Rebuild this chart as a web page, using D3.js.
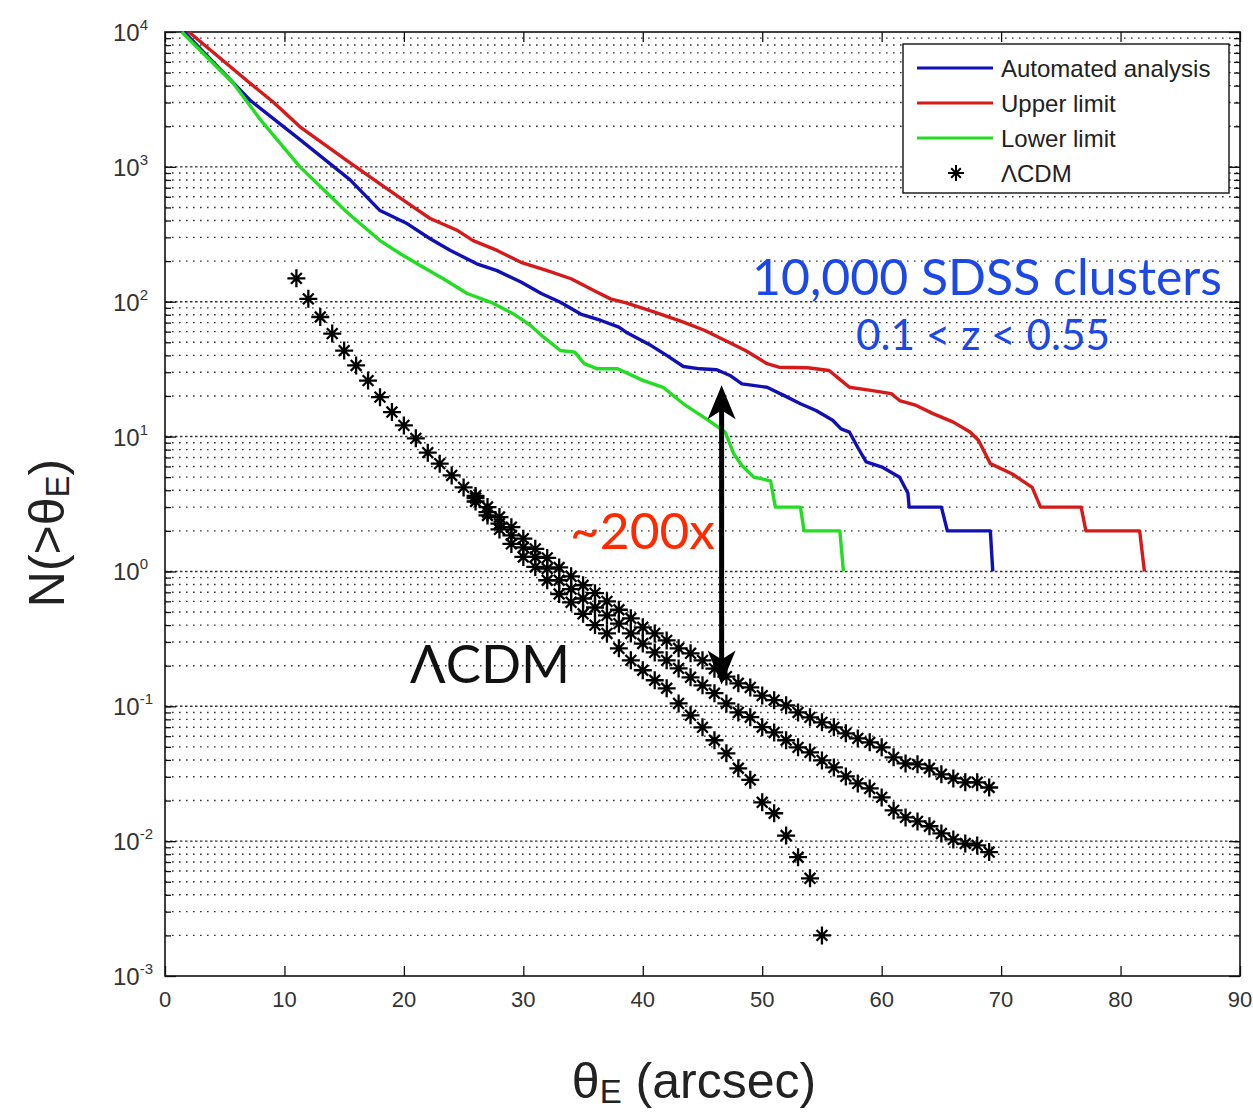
<!DOCTYPE html>
<html><head><meta charset="utf-8">
<script src="https://cdn.jsdelivr.net/npm/d3@7"></script>
<style>body{margin:0;background:#fff}</style>
</head><body>
<svg id="chart" width="1253" height="1117" xmlns="http://www.w3.org/2000/svg"></svg>
<script>
// ---------------- data ----------------
const xTickValues = [0,10,20,30,40,50,60,70,80,90];
const yTickExponents = [-3,-2,-1,0,1,2,3,4];

// [theta_E (arcsec), N(>theta_E)]
const automatedAnalysis = [[1.6,10000],[7.1,3130],[11.3,1590],[15.5,800],[18.0,474],[20.3,378],[22.2,293],[23.9,240],[26.1,191],[27.8,170],[29.8,140],[31.5,115],[33.1,99],[34.8,81],[36.5,72.6],[38.0,64.7],[38.6,59.4],[40.7,47.3],[42.0,40],[43.4,33.1],[44.8,31.8],[46.2,31.3],[47.3,28.4],[48.3,24.6],[50.4,23.2],[51.8,20.2],[53.2,17.5],[54.5,15.6],[55.9,13.2],[56.6,11.4],[57.3,10.8],[58.0,8.3],[58.7,6.5],[60.1,5.9],[61.5,5.0],[62.2,3.8],[62.3,3],[65.0,3],[65.5,2],[69.1,2],[69.3,1]];

const upperLimit = [[2.0,10000],[7.1,4190],[9.1,3000],[11.3,1980],[15.5,1070],[18.0,748],[20.8,502],[22.2,414],[24.5,337],[25.8,284],[27.8,240],[29.8,196],[32.0,170],[34.0,148],[35.9,121],[37.3,105],[38.6,98],[41.0,83.6],[43.4,70.5],[45.2,61.2],[46.9,51.6],[48.6,43.5],[50.4,34.7],[51.4,32.7],[53.8,32.4],[55.6,30.9],[56.6,26.1],[57.3,23.2],[59.1,22],[60.8,20.8],[61.5,18.5],[62.9,17],[64.3,14.8],[66.0,12.8],[67.4,10.8],[68.1,9.4],[69.1,6.3],[70.9,5.3],[72.6,4.2],[73.3,3],[76.7,3],[77.1,2],[81.6,2],[82.0,1]];

const lowerLimit = [[1.4,10000],[5.7,4190],[8.0,2230],[11.3,1000],[15.3,455],[18.0,284],[19.7,227],[21.4,185],[23.3,148],[25.3,115],[27.3,99],[29.2,81],[30.6,66.7],[31.7,54.6],[33.1,43.5],[34.3,42.3],[35.1,34.7],[36.2,31.8],[37.9,31.8],[40.0,26.1],[41.7,23.2],[43.4,17.5],[45.5,13.2],[46.9,10.8],[47.6,7.5],[48.3,6.1],[49.3,5],[50.7,4.7],[51.1,3],[53.2,3],[53.5,2],[56.5,2],[56.8,1]];

// LambdaCDM predictions, evaluated at integer theta_E
const lcdmSharedTheta = [11,12,13,14,15,16,17,18,19,20,21,22,23,24,25];
const lcdmShared = [149,105,77,58,43.4,33.7,26,19.6,15.2,12.1,9.7,7.6,6.3,5.15,4.2];
const lcdmUpperTheta = d3.range(26,70);
const lcdmUpper = [3.63,3.0,2.53,2.13,1.75,1.47,1.26,1.07,0.92,0.79,0.69,0.60,0.52,0.449,0.385,0.347,0.308,0.269,0.247,0.219,0.19,0.166,0.148,0.138,0.12,0.111,0.1016,0.090,0.0828,0.076,0.0698,0.063,0.0578,0.054,0.0496,0.0418,0.0377,0.0371,0.0347,0.0313,0.0292,0.0273,0.0273,0.025];
const lcdmMiddleTheta = d3.range(26,70);
const lcdmMiddle = [3.5,2.75,2.26,1.85,1.51,1.28,1.05,0.86,0.74,0.63,0.54,0.472,0.41,0.347,0.292,0.251,0.219,0.191,0.164,0.143,0.125,0.105,0.09,0.083,0.07,0.064,0.056,0.0496,0.0455,0.0397,0.0352,0.0302,0.0268,0.0246,0.0211,0.0169,0.015,0.014,0.0129,0.0114,0.0103,0.0096,0.0093,0.0083];
const lcdmLowerTheta = d3.range(26,56);
const lcdmLower = [3.3,2.6,2.05,1.6,1.28,1.08,0.86,0.68,0.59,0.485,0.40,0.347,0.269,0.219,0.185,0.156,0.136,0.105,0.0857,0.0698,0.056,0.0448,0.0347,0.0285,0.0194,0.0161,0.011,0.0076,0.0053,0.002];

const legendLabels = ["Automated analysis","Upper limit","Lower limit","\u039BCDM"];
const seriesColors = ["#1010b4","#d61a1a","#22dd22"];

// ---------------- drawing ----------------
const svg = d3.select("#chart");
const L=165, R=1240, T=32, B=976;
const x = d3.scaleLinear().domain([0,90]).range([L,R]);
const y = d3.scaleLog().domain([1e-3,1e4]).range([B,T]);

svg.append("defs").append("clipPath").attr("id","plotclip")
  .append("rect").attr("x",L).attr("y",T-3).attr("width",R-L).attr("height",B-T+3);

// horizontal grid lines (major + minor, dotted)
const gridVals = [];
for (let e=-3; e<4; e++) for (let k=1; k<10; k++) gridVals.push({v:k*Math.pow(10,e), major:k===1});
const grid = svg.append("g");
grid.selectAll("line").data(gridVals.filter(d=>d.v>1.0001e-3)).join("line")
  .attr("x1",L).attr("x2",R)
  .attr("y1",d=>y(d.v)).attr("y2",d=>y(d.v))
  .attr("stroke","#333").attr("stroke-width",1.4)
  .attr("stroke-dasharray",d=>d.major?"2.5,2.5":"1.6,5.4");

// axes ticks via d3 axes (inward)
const xAxisB = d3.axisBottom(x).tickValues(xTickValues).tickSize(-10).tickFormat("");
const xAxisT = d3.axisTop(x).tickValues(xTickValues).tickSize(-10).tickFormat("");
svg.append("g").attr("transform",`translate(0,${B})`).call(xAxisB).call(g=>g.select(".domain").remove());
svg.append("g").attr("transform",`translate(0,${T})`).call(xAxisT).call(g=>g.select(".domain").remove());
const yMinor = gridVals.map(d=>d.v).filter(v=>v>1.0001e-3);
const yMajor = yTickExponents.map(e=>Math.pow(10,e));
[[d3.axisLeft, L],[d3.axisRight, R]].forEach(([ax,pos])=>{
  svg.append("g").attr("transform",`translate(${pos},0)`)
    .call(ax(y).tickValues(yMinor).tickSize(-6).tickFormat(""))
    .call(g=>g.select(".domain").remove());
  svg.append("g").attr("transform",`translate(${pos},0)`)
    .call(ax(y).tickValues(yMajor).tickSize(-11).tickFormat(""))
    .call(g=>g.select(".domain").remove());
});
svg.selectAll(".tick line").attr("stroke","#111").attr("stroke-width",1.3);

// tick labels
svg.append("g").selectAll("text").data(xTickValues).join("text")
  .attr("x",d=>x(d)).attr("y",1007).attr("text-anchor","middle")
  .attr("font-family","Liberation Sans, Arial, sans-serif").attr("font-size",22).attr("fill","#333")
  .text(d=>d);
const yl = svg.append("g").selectAll("text").data(yTickExponents).join("text")
  .attr("x",113).attr("y",d=>y(Math.pow(10,d))+9)
  .attr("font-family","Liberation Sans, Arial, sans-serif").attr("font-size",24).attr("fill","#333");
yl.append("tspan").text("10");
yl.append("tspan").attr("dy",-11).attr("font-size",15).text(d=>d);

// frame
svg.append("rect").attr("x",L).attr("y",T).attr("width",R-L).attr("height",B-T)
  .attr("fill","none").attr("stroke","#111").attr("stroke-width",1.6);

// observed curves
const line = d3.line().x(d=>x(d[0])).y(d=>y(d[1]));
const plot = svg.append("g").attr("clip-path","url(#plotclip)");
[automatedAnalysis, upperLimit, lowerLimit].forEach((s,i)=>{
  plot.append("path").datum(s).attr("d",line).attr("fill","none")
    .attr("stroke",seriesColors[i]).attr("stroke-width",3.4).attr("stroke-linejoin","round");
});

// LambdaCDM asterisk markers
function starPath(s){
  const d=s*0.6;
  return `M${-s},0H${s}M0,${-s}V${s}M${-d},${-d}L${d},${d}M${-d},${d}L${d},${-d}`;
}
const lcdmPoints = [];
lcdmSharedTheta.forEach((t,i)=>lcdmPoints.push([t,lcdmShared[i]]));
[[lcdmUpperTheta,lcdmUpper],[lcdmMiddleTheta,lcdmMiddle],[lcdmLowerTheta,lcdmLower]].forEach(([th,v])=>{
  th.forEach((t,i)=>lcdmPoints.push([t,v[i]]));
});
plot.append("g").selectAll("path").data(lcdmPoints).join("path")
  .attr("transform",d=>`translate(${x(d[0])},${y(d[1])})`)
  .attr("d",starPath(9)).attr("fill","none").attr("stroke","#000").attr("stroke-width",2.3);

// legend
const lg = svg.append("g");
lg.append("rect").attr("x",903).attr("y",44).attr("width",326).attr("height",149)
  .attr("fill","#fff").attr("stroke","#111").attr("stroke-width",1.4);
const rowY = [68,103,138,173];
legendLabels.forEach((lab,i)=>{
  if (i<3) lg.append("line").attr("x1",917).attr("x2",993).attr("y1",rowY[i]).attr("y2",rowY[i])
      .attr("stroke",seriesColors[i]).attr("stroke-width",3);
  else lg.append("path").attr("transform",`translate(956,${rowY[i]})`).attr("d",starPath(8))
      .attr("fill","none").attr("stroke","#000").attr("stroke-width",2);
  lg.append("text").attr("x",1001).attr("y",rowY[i]+9)
    .attr("font-family","Liberation Sans, Arial, sans-serif").attr("font-size",24).attr("fill","#222")
    .text(lab);
});

// axis titles
const xt = svg.append("text").attr("x",694).attr("y",1098).attr("text-anchor","middle")
  .attr("font-family","Liberation Sans, Arial, sans-serif").attr("font-size",50).attr("fill","#222");
xt.append("tspan").text("\u03B8");
xt.append("tspan").attr("font-size",33).attr("dy",5).text("E");
xt.append("tspan").attr("dy",-5).text(" (arcsec)");
const ytt = svg.append("text").attr("transform","translate(64,533) rotate(-90)").attr("text-anchor","middle")
  .attr("font-family","Liberation Sans, Arial, sans-serif").attr("font-size",50).attr("fill","#222");
ytt.append("tspan").text("N(>\u03B8");
ytt.append("tspan").attr("font-size",33).attr("dy",5).text("E");
ytt.append("tspan").attr("dy",-5).text(")");

// annotations
const ann = svg.append("g").attr("font-family","Lato, 'Open Sans', sans-serif");
ann.append("text").attr("x",752).attr("y",295).attr("font-size",50).attr("fill","#1c48e8")
  .attr("textLength",470).attr("lengthAdjust","spacingAndGlyphs").text("10,000 SDSS clusters");
ann.append("text").attr("x",856).attr("y",350).attr("font-size",42).attr("fill","#1c48e8")
  .attr("textLength",254).attr("lengthAdjust","spacingAndGlyphs").text("0.1 < z < 0.55");
ann.append("text").attr("x",570).attr("y",549).attr("font-size",50).attr("fill","#ff2a00")
  .attr("textLength",145).attr("lengthAdjust","spacingAndGlyphs").text("~200x");
ann.append("text").attr("x",410).attr("y",683).attr("font-size",52).attr("fill","#111")
  .attr("textLength",160).attr("lengthAdjust","spacingAndGlyphs").text("\u039BCDM");

// double-headed arrow (between observed ~30 and LCDM at theta ~ 47)
const ax0 = x(46.6);
const yTop = y(24), yBot = y(0.145);
svg.append("line").attr("x1",ax0).attr("x2",ax0).attr("y1",yTop+20).attr("y2",yBot-20)
  .attr("stroke","#000").attr("stroke-width",5);
const head = (tipY,dir)=>`M${ax0},${tipY} L${ax0+14},${tipY+dir*34} L${ax0},${tipY+dir*25} L${ax0-14},${tipY+dir*34} Z`;
svg.append("path").attr("d",head(yTop,1)).attr("fill","#000");
svg.append("path").attr("d",head(yBot,-1)).attr("fill","#000");
</script>
</body></html>
